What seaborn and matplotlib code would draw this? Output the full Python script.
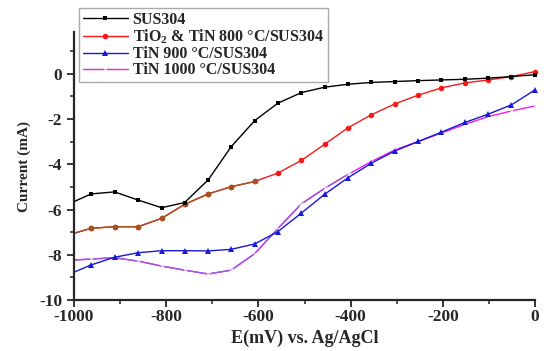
import pandas as pd
import matplotlib.pyplot as plt
import seaborn as sns
from matplotlib.ticker import MultipleLocator

# potential (mV vs. Ag/AgCl), marker positions
potencial = [-1000, -963, -912, -861, -810, -760, -709, -659, -608, -558, -507,
             -456, -406, -355, -304, -253, -203, -152, -101, -51, 0]

sus304 = [-5.65, -5.31, -5.22, -5.58, -5.92, -5.69, -4.69, -3.22, -2.07, -1.30, -0.83,
          -0.59, -0.46, -0.38, -0.34, -0.30, -0.27, -0.24, -0.19, -0.12, -0.04]
tin_800 = [-7.05, -6.83, -6.76, -6.76, -6.39, -5.77, -5.31, -4.99, -4.76, -4.39, -3.83,
           -3.11, -2.39, -1.81, -1.33, -0.94, -0.62, -0.40, -0.27, -0.12, 0.10]
tin_900 = [-8.77, -8.45, -8.11, -7.91, -7.82, -7.82, -7.83, -7.76, -7.52, -6.98, -6.16,
           -5.32, -4.60, -3.95, -3.41, -2.99, -2.58, -2.15, -1.78, -1.37, -0.71]
tin_1000 = [-8.23, -8.19, -8.13, -8.28, -8.50, -8.68, -8.85, -8.68, -7.95, -6.85, -5.75,
            -5.06, -4.45, -3.88, -3.36, -2.99, -2.62, -2.23, -1.89, -1.64, -1.42]

etiquetas = ["SUS304", "TiO$_2$ & TiN 800 \u00b0C/SUS304",
             "TiN 900 \u00b0C/SUS304", "TiN 1000 \u00b0C/SUS304"]

sns.set_style("ticks")
plt.rcParams["font.family"] = ["Liberation Serif", "DejaVu Serif"]
plt.rcParams["font.weight"] = "bold"
plt.rcParams["axes.unicode_minus"] = False
plt.rcParams["mathtext.fontset"] = "custom"
plt.rcParams["mathtext.rm"] = "Liberation Serif:bold"
plt.rcParams["mathtext.it"] = "Liberation Serif:bold"
plt.rcParams["mathtext.bf"] = "Liberation Serif:bold"

df = pd.DataFrame({"E": potencial, "sus": sus304, "t800": tin_800,
                   "t900": tin_900, "t1000": tin_1000})

fig = plt.figure(figsize=(5.5, 3.51), dpi=100)
ax = fig.add_axes([74 / 550, 51 / 351, 461 / 550, 268 / 351])

comun = dict(errorbar=None, markevery=slice(1, None), linewidth=1.0,
             clip_on=False, ax=ax)

# red curve with the brownish lower part seen in the reference
sns.lineplot(data=df, x="E", y="t800", color="#f51a1a", marker="o", markersize=4,
             markeredgewidth=0, label=etiquetas[1], **comun)
sns.lineplot(data=df[df["E"] <= -608], x="E", y="t800", color="#a3521f", marker="o",
             markersize=4, markeredgewidth=0, legend=False, **comun)

# pink curve, purple on the lower part
sns.lineplot(data=df, x="E", y="t1000", color="#f01ee6", marker="x", markersize=3,
             markeredgewidth=0.6, label=etiquetas[3], **comun)
sns.lineplot(data=df[df["E"] <= -406], x="E", y="t1000", color="#9a5ae0", marker="x",
             markersize=3, markeredgewidth=0.6, legend=False, **comun)

sns.lineplot(data=df, x="E", y="t900", color="#1818d8", marker="^", markersize=4.5,
             markeredgewidth=0, label=etiquetas[2], **comun)
sns.lineplot(data=df, x="E", y="sus", color="black", marker="s", markersize=3.5,
             markeredgewidth=0, label=etiquetas[0], **comun)

ax.set_xlim(-1000, 0)
ax.set_ylim(-10, 1.85)
ax.xaxis.set_major_locator(MultipleLocator(200))
ax.xaxis.set_minor_locator(MultipleLocator(100))
ax.yaxis.set_major_locator(MultipleLocator(2))
ax.yaxis.set_minor_locator(MultipleLocator(1))
ax.tick_params(which="major", length=5, width=1.3, labelsize=12.5, direction="out")
ax.tick_params(axis="x", which="major", pad=1.5)
ax.tick_params(which="minor", length=3, width=1.1, direction="out")

sns.despine(ax=ax)
for s in ["left", "bottom"]:
    ax.spines[s].set_linewidth(1.6)

ax.set_xlabel("E(mV) vs. Ag/AgCl", fontsize=13, fontweight="bold", labelpad=3)
ax.set_ylabel("Current (mA)", fontsize=11, fontweight="bold", labelpad=6)

handles, labels = ax.get_legend_handles_labels()
orden = [labels.index(e) for e in etiquetas]
leg = ax.legend([handles[i] for i in orden], [labels[i] for i in orden],
                loc="upper left", bbox_to_anchor=(0.011, 1.09), borderaxespad=0,
                frameon=True, fancybox=False, framealpha=1,
                edgecolor="#aaaaaa", handlelength=2.8, handletextpad=0.3,
                labelspacing=0.0, borderpad=0.25, prop={"weight": "bold", "size": 11.5})
leg.get_frame().set_linewidth(1.0)

fig.canvas.draw()
for lab in ax.get_xticklabels() + ax.get_yticklabels():
    lab.set_fontweight("bold")

plt.savefig("out.png", dpi=100)
